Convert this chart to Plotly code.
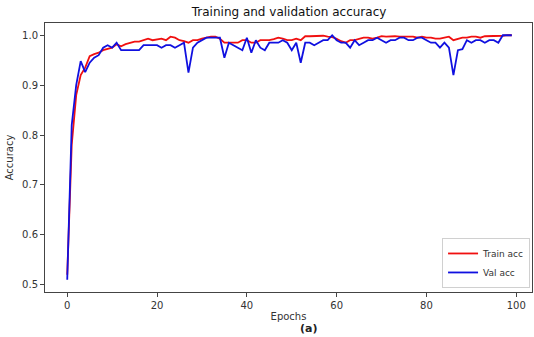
import plotly.graph_objects as go

epochs = list(range(100))

train_acc = [0.52, 0.78, 0.88, 0.92, 0.935, 0.958, 0.962, 0.965, 0.97, 0.972,
             0.975, 0.982, 0.978, 0.982, 0.985, 0.987, 0.987, 0.99, 0.993, 0.99,
             0.992, 0.993, 0.99, 0.997, 0.995, 0.99, 0.988, 0.985, 0.99, 0.99,
             0.993, 0.995, 0.997, 0.997, 0.993, 0.985, 0.985, 0.985, 0.985, 0.99,
             0.99, 0.985, 0.985, 0.99, 0.99, 0.99, 0.992, 0.995, 0.993, 0.99,
             0.99, 0.993, 0.99, 0.998, 0.998, 0.998, 0.998, 0.999, 0.997, 0.996,
             0.993, 0.988, 0.985, 0.99, 0.99, 0.992, 0.995, 0.995, 0.993, 0.995,
             0.998, 0.997, 0.998, 0.998, 0.997, 0.997, 0.998, 0.997, 0.995, 0.997,
             0.995, 0.995, 0.993, 0.993, 0.995, 0.997, 0.99, 0.993, 0.995, 0.995,
             0.997, 0.997, 0.995, 0.998, 0.998, 0.999, 0.999, 0.999, 1.0, 1.0]

val_acc = [0.51, 0.82, 0.90, 0.948, 0.926, 0.945, 0.955, 0.96, 0.975, 0.98,
           0.975, 0.985, 0.97, 0.97, 0.97, 0.97, 0.97, 0.98, 0.98, 0.98,
           0.98, 0.975, 0.98, 0.98, 0.975, 0.98, 0.985, 0.925, 0.975, 0.985,
           0.99, 0.995, 0.995, 0.995, 0.995, 0.955, 0.985, 0.98, 0.975, 0.97,
           0.995, 0.965, 0.99, 0.975, 0.97, 0.985, 0.985, 0.985, 0.99, 0.985,
           0.97, 0.985, 0.945, 0.985, 0.985, 0.98, 0.985, 0.99, 0.99, 1.0,
           0.99, 0.985, 0.985, 0.975, 0.99, 0.98, 0.985, 0.99, 0.99, 0.995,
           0.99, 0.985, 0.99, 0.99, 0.995, 0.995, 0.99, 0.99, 0.995, 0.995,
           0.99, 0.985, 0.985, 0.975, 0.985, 0.975, 0.92, 0.97, 0.972, 0.99,
           0.985, 0.99, 0.99, 0.985, 0.99, 0.99, 0.985, 1.0, 1.0, 1.0]

x_ticks = [0, 20, 40, 60, 80, 100]
y_ticks = [0.5, 0.6, 0.7, 0.8, 0.9, 1.0]

font_family = "DejaVu Sans"
fig = go.Figure()
fig.add_trace(go.Scatter(x=epochs, y=train_acc, mode="lines", name="Train acc",
                         line=dict(color="#f01010", width=1.8)))
fig.add_trace(go.Scatter(x=epochs, y=val_acc, mode="lines", name="Val acc",
                         line=dict(color="#1010e0", width=1.8)))

axis_common = dict(showgrid=False, zeroline=False, showline=True, mirror=True,
                   linecolor="#444", linewidth=1, ticks="outside", ticklen=4,
                   tickcolor="#444", tickfont=dict(size=10, color="#333", family=font_family))

fig.update_layout(
    width=534, height=337,
    margin=dict(l=45, r=2, t=23, b=45),
    paper_bgcolor="white", plot_bgcolor="white",
    font=dict(family=font_family, color="#222"),
    title=dict(text="Training and validation accuracy", x=0.5413, xanchor="center",
               y=1 - 12 / 337, yanchor="middle", font=dict(size=12, color="#111")),
    xaxis=dict(range=[-4.95, 103.5], tickvals=x_ticks,
               title=dict(text="Epochs", font=dict(size=10, color="#333"), standoff=2),
               **axis_common),
    yaxis=dict(range=[0.4855, 1.0245], tickvals=y_ticks, tickformat=".1f",
               title=dict(text="Accuracy", font=dict(size=10, color="#333"), standoff=6),
               **axis_common),
    legend=dict(x=0.996, y=0.015, xanchor="right", yanchor="bottom",
                bgcolor="rgba(255,255,255,0.9)", bordercolor="#d0d0d0", borderwidth=1,
                font=dict(size=9, color="#333"), tracegroupgap=0, itemwidth=30),
    showlegend=True,
)

fig.add_annotation(text="<b>(a)</b>", xref="paper", yref="paper", x=0.5413, y=-(329 - 292) / 269,
                   xanchor="center", yanchor="middle", showarrow=False,
                   font=dict(size=11, color="#222", family=font_family))

fig.write_html("out.html")
